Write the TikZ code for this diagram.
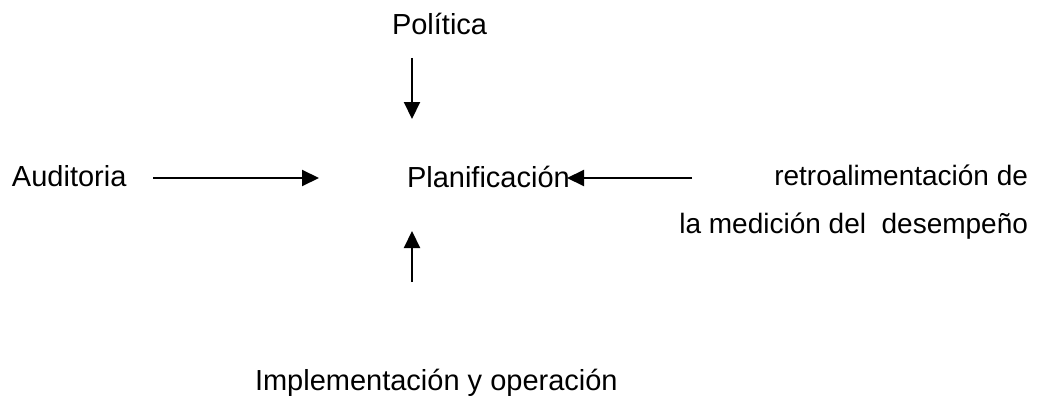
\documentclass[tikz,border=0pt]{standalone}
\usepackage{fontspec}
\setmainfont{Liberation Sans}
\usetikzlibrary{arrows.meta}
\begin{document}
\begin{tikzpicture}[x=1pt,y=-1pt,
  lbl/.style={inner sep=0pt,outer sep=0pt,font=\fontsize{29}{35}\selectfont},
  lblr/.style={lbl,font=\fontsize{28}{34}\selectfont},
  arr/.style={line width=2.1pt,-{Triangle[width=16pt,length=17pt]}}]
\useasboundingbox (0,0) rectangle (1052,396);
\node[lbl,anchor=base west] (pol) at (392,35) {Política};
\node[lbl,anchor=base west] (plan) at (407,187) {Planificación};
\node[lbl,anchor=base west] (aud) at (12,186) {Auditoria};
\node[lblr,anchor=base east] (retro) at (1028,185) {retroalimentación de};
\node[lblr,anchor=base east] (retro2) at (1028,233) {la medición del\ \ desempeño};
\node[lbl,anchor=base west] (impl) at (255,390) {Implementación y operación};
\coordinate (polA) at (412,58);
\coordinate (polB) at (412,119);
\coordinate (audA) at (153,178);
\coordinate (audB) at (319,178);
\coordinate (retA) at (692,178);
\coordinate (retB) at (567,178);
\coordinate (impA) at (412,282);
\coordinate (impB) at (412,231);
\draw[arr] (polA) -- (polB);
\draw[arr] (audA) -- (audB);
\draw[arr] (retA) -- (retB);
\draw[arr] (impA) -- (impB);
\end{tikzpicture}
\end{document}
